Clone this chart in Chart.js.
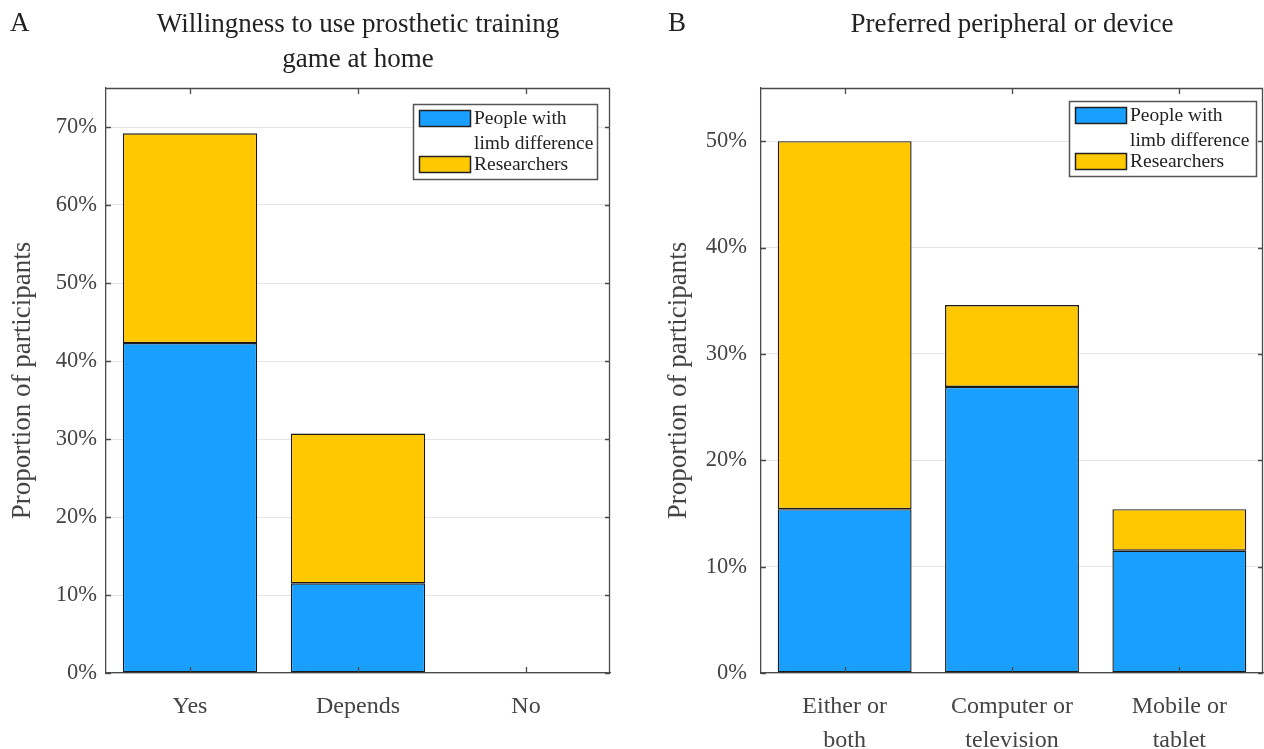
<!DOCTYPE html>
<html>
<head>
<meta charset="utf-8">
<script src="https://cdn.jsdelivr.net/npm/chart.js@4.4.0/dist/chart.umd.min.js"></script>
<style>
  html, body { margin: 0; padding: 0; background: #fff; }
  #wrap { position: relative; width: 1264px; height: 749px; }
  canvas { position: absolute; top: 0; }
</style>
</head>
<body>
<div id="wrap">
  <canvas id="cA" width="632" height="749" style="left:0px"></canvas>
  <canvas id="cB" width="632" height="749" style="left:632px"></canvas>
</div>
<script>
// ---- Data ----
const categoriesA = ['Yes', 'Depends', 'No'];
const limbDiffA = [42.3, 11.5, 0];
const researchersA = [26.9, 19.2, 0];
const titleA = ['Willingness to use prosthetic training', 'game at home'];
const panelA = 'A';
const yMaxA = 75;

const categoriesB = [['Either or', 'both'], ['Computer or', 'television'], ['Mobile or', 'tablet']];
const limbDiffB = [15.4, 26.9, 11.5];
const researchersB = [34.6, 7.7, 3.9];
const titleB = ['Preferred peripheral or device'];
const panelB = 'B';
const yMaxB = 55;

const seriesNames = [['People with', 'limb difference'], ['Researchers']];
const yTitle = 'Proportion of participants';

const BLUE = '#189FFF';
const YELLOW = '#FFC800';
const FONT = "'Liberation Serif', 'Times New Roman', serif";
const TXT = '#444444';
const AXIS = '#4a4a4a';

const framePlugin = {
  id: 'frame',
  afterDraw(chart, args, opts) {
    const ctx = chart.ctx, a = chart.chartArea;
    const x = chart.scales.x, y = chart.scales.y;
    ctx.save();
    ctx.strokeStyle = AXIS;
    ctx.lineWidth = 1.3;
    ctx.beginPath();
    ctx.moveTo(a.left, a.top + 0.5); ctx.lineTo(a.right, a.top + 0.5);
    ctx.moveTo(a.right - 0.5, a.top); ctx.lineTo(a.right - 0.5, a.bottom);
    // inward ticks
    y.ticks.forEach(t => {
      const py = Math.round(y.getPixelForValue(t.value)) + 0.5;
      ctx.moveTo(a.left, py); ctx.lineTo(a.left + 5, py);
      ctx.moveTo(a.right, py); ctx.lineTo(a.right - 5, py);
    });
    x.ticks.forEach((t, i) => {
      const px = Math.round(x.getPixelForTick(i)) + 0.5;
      ctx.moveTo(px, a.bottom); ctx.lineTo(px, a.bottom - 6);
      ctx.moveTo(px, a.top); ctx.lineTo(px, a.top + 6);
    });
    ctx.stroke();

    // titles
    ctx.fillStyle = '#222';
    ctx.font = '27px ' + FONT;
    ctx.textBaseline = 'middle';
    ctx.textAlign = 'left';
    ctx.fillText(opts.panel, opts.panelX, 24);
    ctx.textAlign = 'center';
    const cx = (a.left + a.right) / 2;
    opts.title.forEach((line, i) => ctx.fillText(line, cx, 25 + i * 35));

    // legend
    const L = opts.legend;
    const bx = a.right - L.rightInset - L.width, by = a.top + L.topInset;
    ctx.fillStyle = '#fff';
    ctx.fillRect(bx, by, L.width, 75);
    ctx.strokeStyle = '#555';
    ctx.lineWidth = 1.5;
    ctx.strokeRect(bx + 0.5, by + 0.5, L.width, 75);
    ctx.font = '19.5px ' + FONT;
    ctx.textAlign = 'left';
    const colors = [BLUE, YELLOW];
    const rowsY = [[15, 40], [61]];
    const swY = [6, 52];
    seriesNames.forEach((names, i) => {
      ctx.fillStyle = colors[i];
      ctx.fillRect(bx + 6, by + swY[i], 52, 17);
      ctx.strokeStyle = '#222';
      ctx.lineWidth = 1.5;
      ctx.strokeRect(bx + 6.5, by + swY[i] + 0.5, 51, 16);
      ctx.fillStyle = '#222';
      names.forEach((n, j) => ctx.fillText(n, bx + 61, by + rowsY[i][j]));
    });
    ctx.restore();
  }
};

function makeChart(id, cats, s1, s2, yMax, opts) {
  return new Chart(document.getElementById(id), {
    type: 'bar',
    data: {
      labels: cats,
      datasets: [
        { label: seriesNames[0].join(' '), data: s1, backgroundColor: BLUE, borderColor: '#1a1a1a', borderWidth: 1.4, borderSkipped: false },
        { label: seriesNames[1].join(' '), data: s2, backgroundColor: YELLOW, borderColor: '#1a1a1a', borderWidth: 1.4, borderSkipped: false }
      ]
    },
    options: {
      responsive: false,
      animation: false,
      devicePixelRatio: 1,
      layout: { padding: { top: 88, right: opts.padRight, left: 0, bottom: 0 } },
      datasets: { bar: { categoryPercentage: 0.8, barPercentage: 1.0 } },
      plugins: {
        legend: { display: false },
        tooltip: { enabled: false },
        frame: opts.frame
      },
      scales: {
        x: {
          stacked: true,
          grid: { display: false, drawTicks: false },
          border: { color: AXIS, width: 1.3 },
          ticks: { color: TXT, font: { family: FONT, size: 24, lineHeight: 1.45 }, padding: 16, maxRotation: 0, autoSkip: false },
          afterFit(s) { s.height = 76; }
        },
        y: {
          stacked: true,
          min: 0, max: yMax,
          grid: { color: '#e6e6e6', lineWidth: 1, drawTicks: false },
          border: { color: AXIS, width: 1.3 },
          ticks: { stepSize: 10, color: TXT, font: { family: FONT, size: 22.5 }, padding: opts.tickPad, callback: v => v + '%' },
          afterBuildTicks(s) { s.ticks = s.ticks.filter(t => t.value % 10 === 0); },
          title: { display: true, text: yTitle, color: TXT, font: { family: FONT, size: 27 }, padding: { top: opts.titlePad, bottom: 0 } },
          afterFit(s) { s.width = opts.yWidth; }
        }
      }
    },
    plugins: [framePlugin]
  });
}

makeChart('cA', categoriesA, limbDiffA, researchersA, yMaxA, {
  padRight: 22, yWidth: 106, titlePad: 7, tickPad: 9,
  frame: { panel: panelA, panelX: 10, title: titleA, legend: { width: 184, rightInset: 13, topInset: 16 } }
});
makeChart('cB', categoriesB, limbDiffB, researchersB, yMaxB, {
  padRight: 1, yWidth: 129, titlePad: 31, tickPad: 14,
  frame: { panel: panelB, panelX: 36, title: titleB, legend: { width: 187, rightInset: 7, topInset: 13 } }
});
</script>
</body>
</html>
